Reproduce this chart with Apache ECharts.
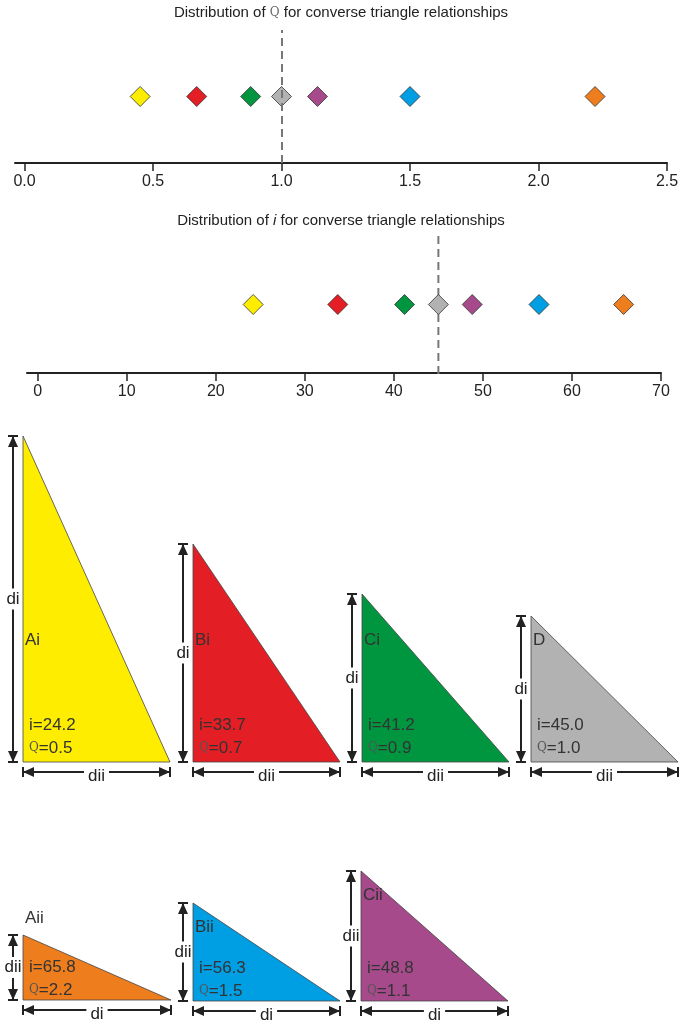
<!DOCTYPE html>
<html><head><meta charset="utf-8">
<script src="https://cdn.jsdelivr.net/npm/echarts@6/dist/echarts.min.js"></script>
<style>html,body{margin:0;padding:0;background:#fff}#c{width:682px;height:1024px}</style>
</head><body><div id="c"></div>
<script>
// Data
var triNames = ['Ai','Bi','Ci','D','Aii','Bii','Cii'];
var triColors = ['#FFED00','#E31E24','#009640','#B2B2B2','#EE7D1E','#009FE3','#A64A8C'];
var qValues = [0.45, 0.67, 0.88, 1.0, 2.22, 1.5, 1.14];
var iValues = [24.2, 33.7, 41.2, 45.0, 65.8, 56.3, 48.8];
var qLabels = ['0.5','0.7','0.9','1.0','2.2','1.5','1.1'];
var vertLeg = [326, 218, 168, 146, 65, 98, 130];   // vertical leg length
var horizLeg = [147, 147, 147, 147, 148, 147, 147]; // horizontal leg length
var vertLabel = ['di','di','di','di','dii','dii','dii'];
var horizLabel = ['dii','dii','dii','dii','di','di','di'];
var qTicks = [0, 0.5, 1.0, 1.5, 2.0, 2.5];
var iTicks = [0, 10, 20, 30, 40, 50, 60, 70];

var FONT = 'Liberation Sans, Arial, sans-serif';
// layout
var colX = [23, 193, 362, 531, 23, 193, 361];
var baseY = [762, 762, 762, 762, 1000, 1001, 1001];
var triData = triNames.map(function(n, k){ return [colX[k], baseY[k], horizLeg[k], vertLeg[k], k]; });

function scatterData(vals){ return vals.map(function(v,k){ return {value:[v,0], itemStyle:{color:triColors[k]}}; }); }

var QR = {q:{fontFamily:'DejaVu Serif, serif', fontSize:12, color:'#666'}};

function arrowV(x, y1, y2, color){
  return [
    {type:'line', shape:{x1:x,y1:y1,x2:x,y2:y2}, style:{stroke:color,lineWidth:2}},
    {type:'line', shape:{x1:x-5,y1:y1,x2:x+5,y2:y1}, style:{stroke:color,lineWidth:2}},
    {type:'line', shape:{x1:x-5,y1:y2,x2:x+5,y2:y2}, style:{stroke:color,lineWidth:2}},
    {type:'polygon', shape:{points:[[x,y1],[x-5,y1+11],[x+5,y1+11]]}, style:{fill:color}},
    {type:'polygon', shape:{points:[[x,y2],[x-5,y2-11],[x+5,y2-11]]}, style:{fill:color}}
  ];
}
function arrowH(y, x1, x2, color){
  return [
    {type:'line', shape:{x1:x1,y1:y,x2:x2,y2:y}, style:{stroke:color,lineWidth:2}},
    {type:'line', shape:{x1:x1,y1:y-5,x2:x1,y2:y+5}, style:{stroke:color,lineWidth:2}},
    {type:'line', shape:{x1:x2,y1:y-5,x2:x2,y2:y+5}, style:{stroke:color,lineWidth:2}},
    {type:'polygon', shape:{points:[[x1,y],[x1+11,y-5],[x1+11,y+5]]}, style:{fill:color}},
    {type:'polygon', shape:{points:[[x2,y],[x2-11,y-5],[x2-11,y+5]]}, style:{fill:color}}
  ];
}

var chart = echarts.init(document.getElementById('c'));
chart.setOption({
  animation:false,
  title:[
    {text:'Distribution of {q|Q} for converse triangle relationships', left:'center', top:0,
     textStyle:{fontFamily:FONT,fontSize:15,fontWeight:'normal',color:'#222',rich:QR}},
    {text:'Distribution of {it|i} for converse triangle relationships', left:'center', top:208,
     textStyle:{fontFamily:FONT,fontSize:15,fontWeight:'normal',color:'#222',rich:{it:{fontStyle:'italic',fontFamily:FONT,fontSize:15,color:'#222'}}}}
  ],
  grid:[
    {left:15, right:15, top:30, height:133},
    {left:27, right:21, top:236, height:137},
    {left:0, right:0, top:0, bottom:0}
  ],
  xAxis:[
    {gridIndex:0, type:'value', min:-0.037, max:2.5,
     axisLine:{onZero:false, lineStyle:{color:'#222',width:2}}, splitLine:{show:false},
     axisTick:{customValues:qTicks, length:8, lineStyle:{color:'#222',width:1.5}},
     axisLabel:{customValues:qTicks, formatter:function(v){return v.toFixed(1);}, fontFamily:FONT, fontSize:16, color:'#222', margin:11}},
    {gridIndex:1, type:'value', min:-1.2, max:70,
     axisLine:{onZero:false, lineStyle:{color:'#222',width:2}}, splitLine:{show:false},
     axisTick:{customValues:iTicks, length:8, lineStyle:{color:'#222',width:1.5}},
     axisLabel:{customValues:iTicks, fontFamily:FONT, fontSize:16, color:'#222', margin:11}},
    {gridIndex:2, type:'value', min:0, max:682, show:false}
  ],
  yAxis:[
    {gridIndex:0, type:'value', min:-1, max:1, show:false},
    {gridIndex:1, type:'value', min:-1, max:1, show:false},
    {gridIndex:2, type:'value', min:0, max:1024, inverse:true, show:false}
  ],
  series:[
    {type:'scatter', xAxisIndex:0, yAxisIndex:0, symbol:'diamond', symbolSize:[20,20],
     itemStyle:{borderColor:'#333',borderWidth:0.8,opacity:1}, data:scatterData(qValues), z:3,
     markLine:{silent:true, symbol:'none', label:{show:false}, lineStyle:{color:'#777',type:[8,5],width:2}, data:[{xAxis:1.0}]}},
    {type:'scatter', xAxisIndex:1, yAxisIndex:1, symbol:'diamond', symbolSize:[20,20],
     itemStyle:{borderColor:'#333',borderWidth:0.8,opacity:1}, data:scatterData(iValues), z:3},
    {type:'line', xAxisIndex:1, yAxisIndex:1, data:[[45,1],[45,-1.38]], symbol:'none', z:2,
     lineStyle:{color:'#777',type:[8,5],width:2}},
    {type:'custom', xAxisIndex:2, yAxisIndex:2, data:triData, z:5,
     renderItem:function(params, api){
       var k = api.value(4);
       var p0 = api.coord([api.value(0), api.value(1)]);
       var p1 = api.coord([api.value(0)+api.value(2), api.value(1)]);
       var pt = api.coord([api.value(0), api.value(1)-api.value(3)]);
       var x = p0[0], yb = p0[1], xr = p1[0], yt = pt[1];
       var dark = '#222';
       var ch = [{type:'polygon', shape:{points:[[x,yt],[x,yb],[xr,yb]]}, style:{fill:triColors[k],stroke:'#444',lineWidth:0.8}}];
       ch = ch.concat(arrowV(x-10, yt, yb, dark)).concat(arrowH(yb+10, x, xr, dark));
       ch.push({type:'text', style:{x:x-10, y:(yt+yb)/2, text:vertLabel[k], align:'center', verticalAlign:'middle', fill:dark, font:'17px '+FONT, backgroundColor:'#fff', padding:[2,0]}});
       ch.push({type:'text', style:{x:(x+xr)/2, y:yb+14, text:horizLabel[k], align:'center', verticalAlign:'middle', fill:dark, font:'17px '+FONT, backgroundColor:'#fff', padding:[0,4]}});
       var top = k < 4;
       var nameY = top ? 640 : (k===4 ? yt-17 : yt+24);
       var iY = top ? yb-37 : yb-33;
       var qY = top ? yb-14 : yb-10;
       ch.push({type:'text', style:{x:x+2, y:nameY, text:triNames[k], verticalAlign:'middle', fill:'#333', font:'17px '+FONT}});
       ch.push({type:'text', style:{x:x+6, y:iY, text:'i='+iValues[k].toFixed(1), verticalAlign:'middle', fill:'#333', font:'17px '+FONT}});
       ch.push({type:'text', style:{x:x+6, y:qY, text:'{q|Q}=' + qLabels[k], verticalAlign:'middle', fill:'#333', font:'17px '+FONT, rich:{q:{fontFamily:'DejaVu Serif, serif', fontSize:12, fill:'#555'}}}});
       return {type:'group', children:ch};
     }}
  ]
});
</script></body></html>
